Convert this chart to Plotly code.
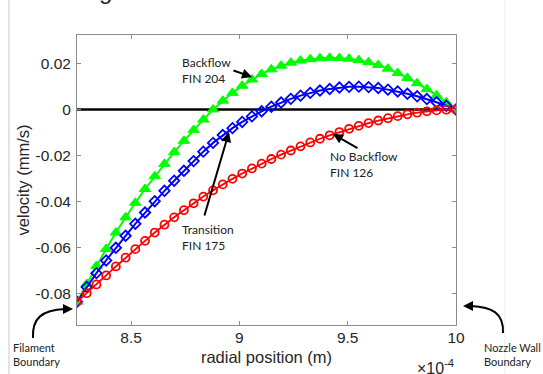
import plotly.graph_objects as go

# ---- data ----
radial_e4 = [8.2500, 8.2949, 8.3397, 8.3846, 8.4295, 8.4744, 8.5192, 8.5641, 8.6090, 8.6538,
             8.6987, 8.7436, 8.7885, 8.8333, 8.8782, 8.9231, 8.9679, 9.0128, 9.0577, 9.1026,
             9.1474, 9.1923, 9.2372, 9.2821, 9.3269, 9.3718, 9.4167, 9.4615, 9.5064, 9.5513,
             9.5962, 9.6410, 9.6859, 9.7308, 9.7756, 9.8205, 9.8654, 9.9103, 9.9551, 10.0000]

backflow_fin204 = [-0.0834, -0.0757, -0.0679, -0.0605, -0.0534, -0.0468, -0.0405, -0.0345, -0.0290, -0.0236,
                   -0.0185, -0.0136, -0.0089, -0.0044, 0.0000, 0.0038, 0.0072, 0.0103, 0.0130, 0.0154,
                   0.0174, 0.0190, 0.0203, 0.0212, 0.0218, 0.0222, 0.0224, 0.0223, 0.0220, 0.0214,
                   0.0205, 0.0193, 0.0177, 0.0158, 0.0137, 0.0114, 0.0088, 0.0061, 0.0031, 0.0]

transition_fin175 = [-0.0834, -0.0770, -0.0710, -0.0655, -0.0600, -0.0548, -0.0496, -0.0447, -0.0398, -0.0353,
                     -0.0309, -0.0266, -0.0224, -0.0183, -0.0145, -0.0111, -0.0081, -0.0054, -0.0030, -0.0008,
                     0.0012, 0.0030, 0.0046, 0.0060, 0.0072, 0.0082, 0.0089, 0.0095, 0.0098, 0.0099,
                     0.0097, 0.0093, 0.0086, 0.0078, 0.0068, 0.0057, 0.0045, 0.0031, 0.0016, 0.0]

nobackflow_fin126 = [-0.0834, -0.0797, -0.0759, -0.0720, -0.0681, -0.0643, -0.0606, -0.0570, -0.0534, -0.0500,
                     -0.0468, -0.0437, -0.0407, -0.0378, -0.0351, -0.0325, -0.0301, -0.0278, -0.0256, -0.0235,
                     -0.0215, -0.0196, -0.0178, -0.0160, -0.0143, -0.0127, -0.0112, -0.0098, -0.0084, -0.0071,
                     -0.0059, -0.0048, -0.0038, -0.0029, -0.0021, -0.0014, -0.0008, -0.0004, -0.0001, 0.0]

zero_line_x = [8.25e-4, 1.0e-3]
zero_line_y = [0, 0]

x_tickvals = [8.5e-4, 9.0e-4, 9.5e-4, 1.0e-3]
x_ticktext = ["8.5", "9", "9.5", "10"]
y_tickvals = [0.02, 0, -0.02, -0.04, -0.06, -0.08]
y_ticktext = ["0.02", "0", "-0.02", "-0.04", "-0.06", "-0.08"]

radial_m = [v * 1e-4 for v in radial_e4]

# ---- layout geometry ----
W, H = 543, 374
L, R, T, B = 77, 87, 35, 49
PW, PH = W - L - R, H - T - B


def xp(px):
    return (px - L) / PW


def yp(py):
    return (H - B - py) / PH


TXT = "#262626"
AX = "#8c8c8c"

fig = go.Figure()
fig.add_trace(go.Scatter(x=zero_line_x, y=zero_line_y, mode="lines",
                         line=dict(color="black", width=2.5), hoverinfo="skip"))
fig.add_trace(go.Scatter(x=radial_m, y=backflow_fin204, mode="lines+markers",
                         line=dict(color="#00ff00", width=2),
                         marker=dict(symbol="triangle-up", size=10, color="#00ff00",
                                     line=dict(color="#00ff00", width=1))))
fig.add_trace(go.Scatter(x=radial_m, y=transition_fin175, mode="lines+markers",
                         line=dict(color="#0000ff", width=2),
                         marker=dict(symbol="diamond-open", size=8, color="#0000ff",
                                     line=dict(color="#0000ff", width=1.8))))
fig.add_trace(go.Scatter(x=radial_m, y=nobackflow_fin126, mode="lines+markers",
                         line=dict(color="#ff0000", width=1.8),
                         marker=dict(symbol="circle-open", size=8, color="#ff0000",
                                     line=dict(color="#ff0000", width=1.8))))

ann_font = dict(family="Lato, Liberation Sans, sans-serif", size=12, color="#222222")
small_font = dict(family="Lato, Liberation Sans, sans-serif", size=11, color="#222222")

annotations = []


def text_ann(px, py, text, font):
    annotations.append(dict(x=xp(px), y=yp(py), xref="paper", yref="paper", text=text,
                            showarrow=False, xanchor="left", yanchor="middle",
                            align="left", font=font))


def arrow_ann(tipx, tipy, ax, ay):
    annotations.append(dict(x=xp(tipx), y=yp(tipy), xref="paper", yref="paper", text="",
                            showarrow=True, ax=ax, ay=ay, arrowhead=2, arrowsize=1,
                            arrowwidth=2, arrowcolor="black"))


text_ann(180, 70.5, "Backflow<br>FIN 204", ann_font)
text_ann(180, 237.5, "Transition<br>FIN 175", ann_font)
text_ann(328, 164, "No Backflow<br>FIN 126", ann_font)
text_ann(11, 354, "Filament<br>Boundary", small_font)
text_ann(482, 354, "Nozzle Wall<br>Boundary", small_font)

arrow_ann(252, 77, -20, -7)
arrow_ann(229, 132, -25, 85)
arrow_ann(333, 134, 26, 15)
arrow_ann(73, 309, -9, 0)
arrow_ann(463, 306, 9, 0)

# exponent label
annotations.append(dict(x=xp(456), y=yp(367), xref="paper", yref="paper",
                        text="\u00d710<sup>-4</sup>", showarrow=False, xanchor="right",
                        yanchor="middle", font=dict(family="Liberation Sans, Arial", size=16, color=TXT)))
# cut-off title glyph at the very top
annotations.append(dict(x=xp(105), y=yp(-9), xref="paper", yref="paper", text="g",
                        showarrow=False, xanchor="center", yanchor="middle",
                        font=dict(family="Liberation Sans, Arial", size=24, color="#222222")))

shapes = []


def curve(points):
    (x0, y0), (c1x, c1y), (c2x, c2y), (x1, y1) = points
    return (f"M {xp(x0)},{yp(y0)} C {xp(c1x)},{yp(c1y)} {xp(c2x)},{yp(c2y)} {xp(x1)},{yp(y1)}")


shapes.append(dict(type="path", xref="paper", yref="paper",
                   path=curve([(33, 338), (32, 318), (42, 310), (65, 309)]),
                   line=dict(color="black", width=2)))
shapes.append(dict(type="path", xref="paper", yref="paper",
                   path=curve([(503, 333), (504, 313), (492, 307), (471, 306)]),
                   line=dict(color="black", width=2)))
# faint page borders
shapes.append(dict(type="line", xref="paper", yref="paper", x0=xp(9), x1=xp(9), y0=yp(0), y1=yp(374),
                   line=dict(color="#c8c8c8", width=1)))
shapes.append(dict(type="line", xref="paper", yref="paper", x0=xp(505), x1=xp(505), y0=yp(0), y1=yp(374),
                   line=dict(color="#ececec", width=1)))

fig.update_layout(
    width=W, height=H,
    margin=dict(l=L, r=R, t=T, b=B, pad=0, autoexpand=False),
    paper_bgcolor="white", plot_bgcolor="white",
    showlegend=False,
    annotations=annotations,
    shapes=shapes,
    font=dict(family="Liberation Sans, Arial, sans-serif", color=TXT),
)
fig.update_xaxes(range=[8.25e-4, 1.0e-3], tickvals=x_tickvals, ticktext=x_ticktext,
                 ticks="inside", ticklen=4, tickcolor=AX, showline=True, linecolor=AX,
                 linewidth=1, mirror="ticks", showgrid=False, zeroline=False, automargin=False,
                 tickfont=dict(size=15.5, color=TXT), ticklabelstandoff=-2,
                 title=dict(text="radial position (m)", font=dict(size=16.5, color=TXT), standoff=6))
fig.update_yaxes(range=[-0.0935, 0.0323], tickvals=y_tickvals, ticktext=y_ticktext,
                 ticks="inside", ticklen=4, tickcolor=AX, showline=True, linecolor=AX,
                 linewidth=1, mirror="ticks", showgrid=False, zeroline=False, automargin=False,
                 tickfont=dict(size=15.5, color=TXT), ticklabelstandoff=2,
                 title=dict(text="velocity (mm/s)", font=dict(size=16.5, color=TXT), standoff=1))

fig.write_html("out.html", config={"displayModeBar": False},
               post_script="document.body.style.margin='0px';document.body.style.padding='0px';"
                           "document.body.style.overflow='hidden';")
